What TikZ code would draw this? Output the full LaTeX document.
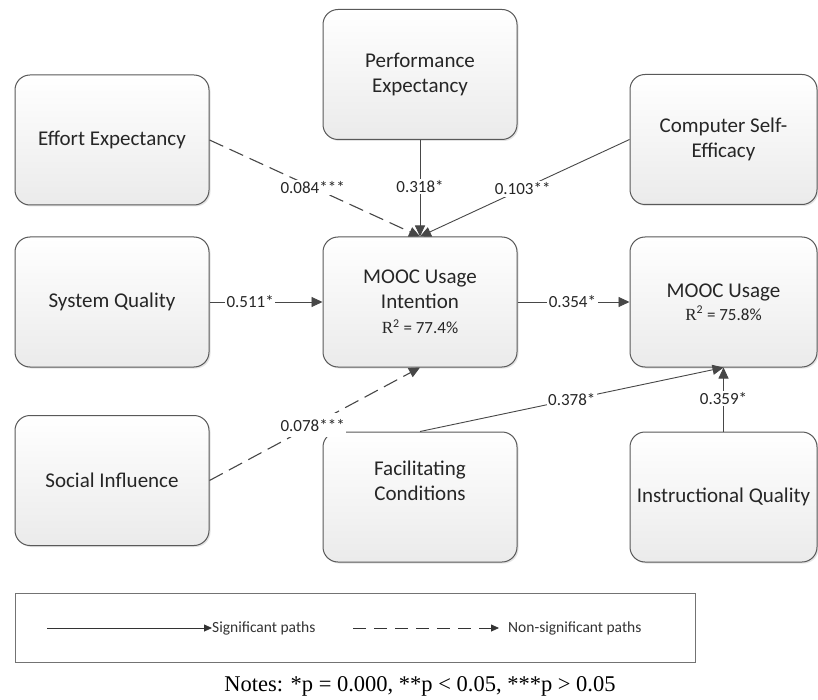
\documentclass[tikz,border=0pt]{standalone}
\usepackage{fontspec}
\setmainfont{Carlito}
\newfontfamily\serifR{Liberation Serif}
\usetikzlibrary{arrows.meta,shadows}
\tikzset{
  box/.style={draw=black!65, line width=1pt, rounded corners=15pt,
    top color=white, bottom color=black!8,
    minimum width=194pt, minimum height=130pt, align=center,
    font=\fontsize{21}{25}\selectfont, text=black!85,
    drop shadow={opacity=0.22, shadow xshift=1.5pt, shadow yshift=-1.5pt}},
  rbox/.style={box, minimum width=187pt},
  conn/.style={draw=black!72, line width=0.9pt, -{Triangle[length=11pt,width=10pt]}},
  nsig/.style={dash pattern=on 15pt off 7pt, line width=1.1pt},
  lab/.style={fill=white, inner sep=1.5pt, font=\fontsize{17}{20}\selectfont, text=black!85},
  legarrow/.style={draw=black!80, line width=0.8pt, -{Triangle[length=8pt,width=7pt]}},
  legtext/.style={anchor=west, inner sep=0pt, font=\fontsize{15.5}{18}\selectfont, text=black!80}
}
\begin{document}
\begin{tikzpicture}[x=1pt,y=-1pt]
\useasboundingbox (0,0) rectangle (818,700);
\fill[white] (0,0) rectangle (818,700);

% boxes
\node[box]  (ee)  at (112,140)     {Effort Expectancy};
\node[box]  (pe)  at (420,74.5)    {Performance\\Expectancy};
\node[rbox] (cse) at (723.5,139.5) {Computer Self-\\Efficacy};
\node[box]  (sq)  at (112,302)     {System Quality};
\node[box]  (mui) at (420,302)     {MOOC Usage\\Intention\\{\fontsize{17}{20}\selectfont{\serifR R}\textsuperscript{2} = 77.4\%}};
\node[rbox] (mu)  at (723.5,302)   {MOOC Usage\\[-2pt]{\fontsize{17}{20}\selectfont{\serifR R}\textsuperscript{2} = 75.8\%}};
\node[box]  (si)  at (112,480.5)   {Social Influence};
\node[box]  (fc)  at (420,497)     {Facilitating\\Conditions\\[8pt]};
\node[rbox] (iq)  at (723.5,497)   {Instructional Quality};

% paths
\draw[conn,nsig] (ee.east) -- node[lab,pos=0.49] {0.084***} (mui.north);
\draw[conn] (pe.south) -- node[lab,pos=0.48] {0.318*} (mui.north);
\draw[conn] (cse.west) -- node[lab,pos=0.51] {0.103**} (mui.north);
\draw[conn] (sq.east) -- node[lab,pos=0.36] {0.511*} (mui.west);
\draw[conn] (mui.east) -- node[lab,pos=0.49] {0.354*} (mu.west);
\draw[conn,nsig] (si.east) -- node[lab,pos=0.49,inner ysep=6pt] {0.078***} (mui.south);
\draw[conn] (fc.north) -- node[lab,pos=0.5] {0.378*} (mu.south);
\draw[conn] (iq.north) -- node[lab,pos=0.52] {0.359*} (mu.south);

% legend
\node[draw=black!55, line width=0.8pt, minimum width=680pt, minimum height=69pt] (legend) at (355,627.5) {};
\node[legtext] (sigt) at (212,628) {Significant paths};
\coordinate (sig0) at (47,628);
\draw[legarrow] (sig0) -- (sigt.west);
\node[legtext] (nst) at (508,628) {Non-significant paths};
\coordinate (ns0) at (353,628);
\draw[legarrow,dash pattern=on 13pt off 8pt,shorten >=9pt] (ns0) -- (nst.west);

% notes
\node[font=\serifR\fontsize{22.5}{26}\selectfont, inner sep=0pt] (notes) at (420,686) {Notes: *p = 0.000, **p < 0.05, ***p > 0.05};
\end{tikzpicture}
\end{document}
